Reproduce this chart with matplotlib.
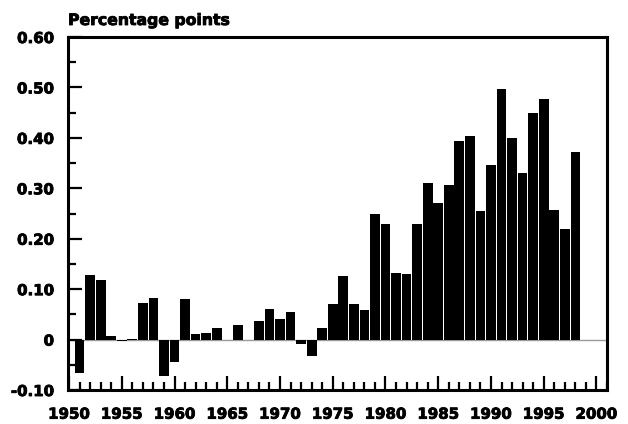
import matplotlib
matplotlib.use("Agg")
import matplotlib.pyplot as plt
import matplotlib.patheffects as pe
from matplotlib.ticker import MultipleLocator

years = list(range(1951, 1999))
values = [
    -0.067, 0.129, 0.119, 0.008, -0.003, 0.002, 0.072, 0.082, -0.073, -0.045,  # 1951-1960
    0.080, 0.012, 0.014, 0.022, 0.000, 0.028, 0.000, 0.036, 0.060, 0.040,     # 1961-1970
    0.054, -0.009, -0.033, 0.022, 0.070, 0.127, 0.070, 0.058, 0.250, 0.230,    # 1971-1980
    0.133, 0.131, 0.230, 0.310, 0.270, 0.307, 0.393, 0.403, 0.254, 0.347,      # 1981-1990
    0.496, 0.399, 0.331, 0.450, 0.478, 0.256, 0.220, 0.371,                    # 1991-1998
]
y_ticks = [-0.10, 0.0, 0.10, 0.20, 0.30, 0.40, 0.50, 0.60]
y_labels = ["-0.10", "0", "0.10", "0.20", "0.30", "0.40", "0.50", "0.60"]
x_ticks = [1950, 1955, 1960, 1965, 1970, 1975, 1980, 1985, 1990, 1995, 2000]
title = "Percentage points"

plt.rcParams['font.family'] = ['DejaVu Sans']
fig = plt.figure(figsize=(6.28, 4.24), dpi=100)
ax = fig.add_axes([68/628, 1-390/424, (607-68)/628, (390-37)/424])

ax.axhline(0, color="#9a9a9a", lw=1.0, zorder=1)
ax.bar(years, values, width=0.92, color="black", linewidth=0, zorder=2)

ax.set_xlim(1949.9, 2001)
ax.set_ylim(-0.10, 0.60)

ax.set_yticks(y_ticks)
ax.set_yticklabels(y_labels)
ax.yaxis.set_minor_locator(MultipleLocator(0.05))
ax.set_xticks(x_ticks)
ax.set_xticklabels([str(x) for x in x_ticks])
ax.xaxis.set_minor_locator(MultipleLocator(1))

for s in ax.spines.values():
    s.set_linewidth(2.2)
    s.set_zorder(5)

ax.tick_params(axis="both", which="major", direction="in", length=10, width=1.6,
               labelsize=10.8, top=False, right=False)
ax.tick_params(axis="both", which="minor", direction="in", length=5.5, width=1.6,
               top=False, right=False)
ax.tick_params(axis="y", which="major", pad=10)
ax.tick_params(axis="x", which="major", pad=12)
stroke = [pe.withStroke(linewidth=0.6, foreground="black")]
for lab in ax.get_xticklabels() + ax.get_yticklabels():
    lab.set_fontweight("bold")
    lab.set_path_effects(stroke)

fig.text(68/628, 1-25/424, title, fontsize=11.3, fontweight="bold",
         ha="left", va="baseline", path_effects=stroke)

fig.savefig("out.png", dpi=100)
